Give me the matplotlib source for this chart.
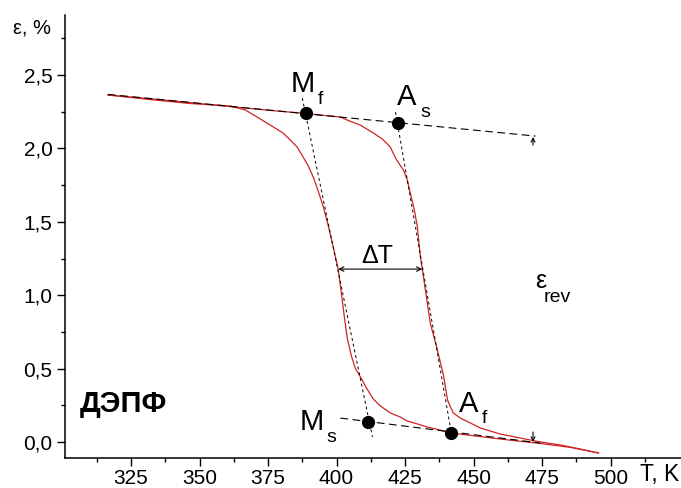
import numpy as np
import matplotlib
matplotlib.use("Agg")
import matplotlib.pyplot as plt
from matplotlib.ticker import MultipleLocator, FixedLocator, FuncFormatter

# heating branch (austenite forms), T in K, strain in %
heat_T = [316.6, 331.9, 346.6, 361.2, 375.8, 388.9, 395.9, 401.4, 403.9, 408.7, 413.4, 416.7,
          419.6, 421.5, 422.9, 424.4, 425.8, 426.9, 428.4, 429.5, 430.6, 431.3, 434.2, 436.8,
          439.0, 440.5, 441.6, 442.6, 445.2, 448.9, 452.5, 459.8, 467.1, 474.4, 481.7, 489.0,
          495.6]
heat_eps = [2.364, 2.339, 2.312, 2.285, 2.259, 2.238, 2.224, 2.214, 2.193, 2.159, 2.105, 2.064,
            2.010, 1.935, 1.894, 1.853, 1.785, 1.696, 1.580, 1.464, 1.260, 1.178, 0.811, 0.627,
            0.456, 0.286, 0.238, 0.198, 0.163, 0.129, 0.095, 0.054, 0.027, 0.0, -0.020, -0.048,
            -0.075]

# cooling branch (martensite forms)
cool_T = [495.6, 485.4, 474.4, 463.5, 452.5, 441.9, 439.0, 436.1, 433.1, 429.5, 425.8, 423.3,
          419.6, 416.0, 413.4, 410.9, 408.7, 406.8, 405.4, 403.9, 402.8, 401.7, 400.6, 398.8,
          397.0, 395.2, 393.3, 391.5, 389.7, 387.8, 385.6, 383.1, 380.5, 375.8, 371.0, 366.7,
          361.2, 346.6, 331.9, 316.6]
cool_eps = [-0.075, -0.037, -0.010, 0.012, 0.037, 0.061, 0.075, 0.089, 0.102, 0.123, 0.143,
            0.170, 0.198, 0.245, 0.293, 0.368, 0.443, 0.504, 0.586, 0.708, 0.858, 1.022, 1.178,
            1.328, 1.471, 1.601, 1.710, 1.805, 1.880, 1.941, 2.010, 2.057, 2.105, 2.159, 2.214,
            2.262, 2.289, 2.306, 2.333, 2.364]

# construction lines
top_T, top_eps = [316.6, 472.6], [2.368, 2.084]
bot_T, bot_eps = [401.4, 474.4], [0.163, -0.007]
m_tan_T, m_tan_eps = [387.5, 413.1], [2.343, 0.034]
a_tan_T, a_tan_eps = [421.5, 441.9], [2.248, 0.061]

# characteristic points Mf, As, Ms, Af
pt_T = [388.9, 422.6, 411.6, 441.9]
pt_eps = [2.238, 2.173, 0.136, 0.061]

# hysteresis width arrow and eps_rev markers
dT_from, dT_to, dT_eps = 400.6, 431.3, 1.178
rev_T = 471.7

fontname = "Liberation Sans"
plt.rcParams['font.family'] = [fontname, 'DejaVu Sans']

fig = plt.figure(figsize=(6.81, 4.88), dpi=100)
ax = fig.add_axes([65/681, 30/488, 616/681, 443/488])

red = '#cf2424'
ax.plot(heat_T, heat_eps, color=red, lw=0.9)
ax.plot(cool_T, cool_eps, color=red, lw=0.9)

ax.plot(top_T, top_eps, color='k', lw=0.8, ls=(0, (7, 4)))
ax.plot(bot_T, bot_eps, color='k', lw=0.8, ls=(0, (7, 4)))
ax.plot(m_tan_T, m_tan_eps, color='k', lw=0.7, ls=(0, (3, 3)))
ax.plot(a_tan_T, a_tan_eps, color='k', lw=0.7, ls=(0, (3, 3)))
ax.plot(pt_T, pt_eps, 'o', color='k', ms=8.5, zorder=5)

# delta T arrow
ax.annotate('', xy=(dT_from, dT_eps), xytext=(dT_to, dT_eps),
            arrowprops=dict(arrowstyle='<->', lw=0.8, color='k', mutation_scale=8,
                            shrinkA=0, shrinkB=0))
# eps_rev arrow tips
ax.annotate('', xy=(rev_T, 2.078), xytext=(rev_T, 2.023),
            arrowprops=dict(arrowstyle='->', lw=0.8, color='k', mutation_scale=7,
                            shrinkA=0, shrinkB=0))
ax.annotate('', xy=(rev_T, 0.0), xytext=(rev_T, 0.068),
            arrowprops=dict(arrowstyle='->', lw=0.8, color='k', mutation_scale=7,
                            shrinkA=0, shrinkB=0))

# labels with subscripts
def sublabel(x, y, main, sub, dx, dy, size=21, subsize=14):
    ax.text(x, y, main, fontsize=size, ha='left', va='baseline')
    ax.annotate(sub, xy=(x, y), xytext=(dx, dy), textcoords='offset points',
                fontsize=subsize, ha='left', va='baseline')

sublabel(383.1, 2.384, 'M', 'f', 19.5, -8.5)
sublabel(422.2, 2.296, 'A', 's', 16.5, -8.5)
sublabel(386.7, 0.082, 'M', 's', 19.0, -8.5)
sublabel(444.5, 0.204, 'A', 'f', 16.5, -8.0)
sublabel(472.6, 1.049, 'ε', 'rev', 5.5, -10, size=18, subsize=14)

ax.text(414.9, 1.219, 'ΔT', fontsize=18, ha='center', va='baseline')
ax.text(306.4, 0.204, 'ДЭПФ', fontsize=21, fontweight='bold', ha='left', va='baseline')

# axes
ax.set_xlim(300.9, 525.7)
ax.set_ylim(-0.109, 2.909)
ax.xaxis.set_major_locator(FixedLocator(np.arange(325, 501, 25)))
ax.xaxis.set_minor_locator(FixedLocator(np.arange(312.5, 520, 25)))
ax.yaxis.set_major_locator(MultipleLocator(0.5))
ax.yaxis.set_minor_locator(MultipleLocator(0.25))
ax.yaxis.set_major_formatter(FuncFormatter(lambda v, p: "{:.1f}".format(v).replace('.', ',')))
ax.xaxis.set_major_formatter(FuncFormatter(lambda v, p: "{:d}".format(int(round(v)))))
for s in ['top', 'right']:
    ax.spines[s].set_visible(False)
for s in ['left', 'bottom']:
    ax.spines[s].set_linewidth(1.1)
ax.tick_params(which='major', direction='out', length=6, width=1.0, labelsize=15, pad=3)
ax.tick_params(which='minor', direction='out', length=3, width=1.0)
ax.tick_params(axis='x', which='major', pad=2)

fig.text(640/681, 1 - 481/488, 'T, K', fontsize=16.5, ha='left', va='baseline')
fig.text(13/681, 1 - 33/488, 'ε, %', fontsize=14.5, ha='left', va='baseline')

plt.savefig('out.png', dpi=100)
